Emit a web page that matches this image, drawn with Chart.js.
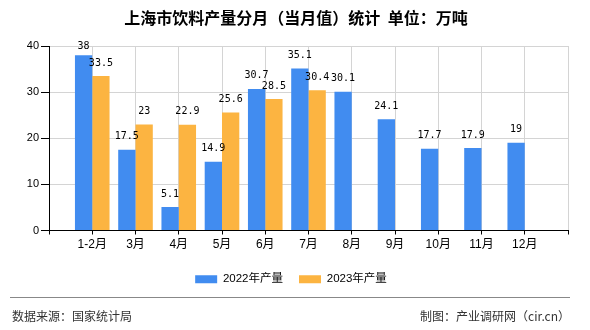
<!DOCTYPE html>
<html><head><meta charset="utf-8">
<script src="https://cdn.jsdelivr.net/npm/chart.js@4/dist/chart.umd.min.js"></script>
<style>html,body{margin:0;padding:0;background:#fff;}#wrap{width:590px;height:330px;position:relative;}</style>
</head><body><div id="wrap"><canvas id="c" width="590" height="330"></canvas></div>
<script>
const months = ['1-2月','3月','4月','5月','6月','7月','8月','9月','10月','11月','12月'];
const output2022 = [38,17.5,5.1,14.9,30.7,35.1,30.1,24.1,17.7,17.9,19];
const output2023 = [33.5,23,22.9,25.6,28.5,30.4,null,null,null,null,null];
const seriesNames = ['2022年产量','2023年产量'];
const yMin = 0, yMax = 40, yStep = 10;
const titleText = '上海市饮料产量分月（当月值）统计  单位：万吨';
const sourceText = '数据来源：国家统计局';
const creditText = '制图：产业调研网（cir.cn）';

const SANS = '"Liberation Sans","Noto Sans CJK SC",sans-serif';
const CJK = '"Noto Sans CJK SC","Liberation Sans",sans-serif';

// pad with an empty slot at each end so categories sit on gridlines
const labels = [''].concat(months, ['']);
const pad = a => [null].concat(a, [null]);

const valueLabels = {
  id: 'valueLabels',
  afterDatasetsDraw(chart) {
    const ctx = chart.ctx;
    ctx.save();
    ctx.font = '10px "DejaVu Sans Mono",monospace';
    ctx.fillStyle = '#000';
    ctx.textAlign = 'center';
    ctx.textBaseline = 'middle';
    chart.data.datasets.forEach((ds, i) => {
      const meta = chart.getDatasetMeta(i);
      meta.data.forEach((bar, j) => {
        const v = ds.data[j];
        if (v === null || v === undefined) return;
        const y = Math.max(bar.y - 13, chart.chartArea.top + 0.5);
        ctx.fillText(String(v), bar.x, y);
      });
    });
    ctx.restore();
  }
};

const frame = {
  id: 'frame',
  afterDraw(chart) {
    const ctx = chart.ctx;
    ctx.save();
    ctx.fillStyle = '#000';
    ctx.font = 'bold 16px ' + CJK;
    ctx.textAlign = 'center';
    ctx.textBaseline = 'middle';
    ctx.fillText(titleText, 296, 18);
    ctx.strokeStyle = '#888';
    ctx.lineWidth = 1;
    ctx.beginPath();
    ctx.moveTo(10, 297.5);
    ctx.lineTo(570, 297.5);
    ctx.stroke();
    ctx.fillStyle = '#333';
    ctx.font = '12px ' + CJK;
    ctx.textAlign = 'left';
    ctx.fillText(sourceText, 12, 316);
    ctx.textAlign = 'right';
    ctx.fillText(creditText, 570, 316);
    ctx.restore();
  }
};

new Chart(document.getElementById('c'), {
  type: 'bar',
  data: {
    labels: labels,
    datasets: [
      {label: seriesNames[0], data: pad(output2022), backgroundColor: '#418cf0', borderWidth: 0},
      {label: seriesNames[1], data: pad(output2023), backgroundColor: '#fcb441', borderWidth: 0}
    ]
  },
  options: {
    responsive: false,
    animation: false,
    devicePixelRatio: 1,
    layout: {padding: {top: 46, right: 22, bottom: 35, left: 14}},
    datasets: {bar: {categoryPercentage: 0.8, barPercentage: 1}},
    plugins: {
      title: {display: false},
      tooltip: {enabled: false},
      legend: {
        position: 'bottom',
        labels: {boxWidth: 22, boxHeight: 8, padding: 16, color: '#000', font: {size: 11.5, family: SANS}}
      }
    },
    scales: {
      x: {
        type: 'category',
        offset: false,
        grid: {offset: false, color: '#d4d4d4', tickColor: '#000', tickLength: 4},
        border: {color: '#000', width: 1},
        ticks: {color: '#000', font: {size: 12, family: SANS}, padding: 3, autoSkip: false, maxRotation: 0},
        afterFit: s => { s.height = 27; }
      },
      y: {
        min: yMin, max: yMax,
        grid: {color: '#d4d4d4', tickColor: '#000', tickLength: 8},
        border: {color: '#000', width: 1},
        ticks: {stepSize: yStep, color: '#000', font: {size: 11, family: SANS}, padding: 2},
        afterFit: s => { s.width = 35; }
      }
    }
  },
  plugins: [valueLabels, frame]
});
</script></body></html>
